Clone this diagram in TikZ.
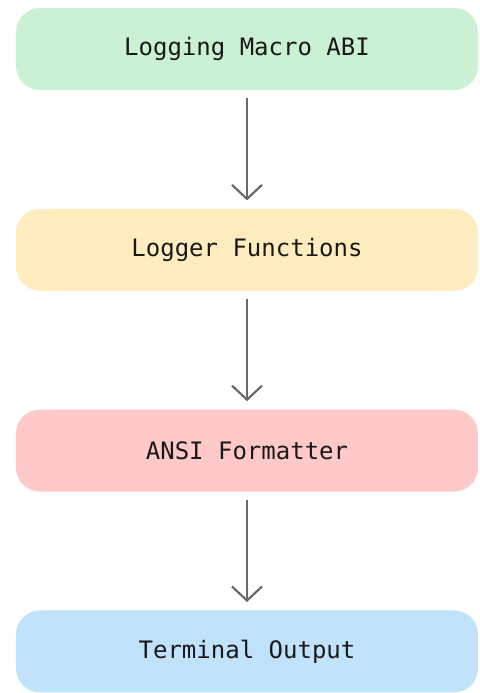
\documentclass[tikz,border=0pt]{standalone}
\usepackage{fontspec}
\setmonofont{DejaVu Sans Mono}
\usepackage{tikz}
\usetikzlibrary{
	arrows.meta,
	positioning,
}
\definecolor{macrogreen}{RGB}{202,241,212}
\definecolor{loggeryellow}{RGB}{255,237,192}
\definecolor{ansired}{RGB}{255,201,201}
\definecolor{termblue}{RGB}{192,226,250}
\definecolor{flowgray}{RGB}{105,105,105}
\tikzset{stage/.style={draw=none,rounded corners=12pt,minimum width=231pt,minimum height=41pt,inner sep=0pt,font=\ttfamily\fontsize{12}{14}\selectfont,text=black!90,}}
\tikzset{flow/.style={draw=flowgray,line width=1.1pt,shorten <=4pt,shorten >=4pt,}}
\tikzset{
	>={Straight Barb[length=7pt,width=15pt,line width=1.1pt]},
	node distance=59pt,
}

\begin{document}
\begin{tikzpicture}[x=1pt,y=1pt]
\useasboundingbox (0,0) rectangle (240,-346.5);

\node[stage,fill=macrogreen](macro) at (123.5,-24.5){Logging Macro ABI};
\node[stage,fill=loggeryellow,below=of macro](logger){Logger Functions};
\node[stage,fill=ansired,below=of logger](ansi){ANSI Formatter};
\node[stage,fill=termblue,below=of ansi](term){Terminal Output};

\draw[flow,->] (macro) -- (logger);
\draw[flow,->] (logger) -- (ansi);
\draw[flow,->] (ansi) -- (term);
\end{tikzpicture}
\end{document}
